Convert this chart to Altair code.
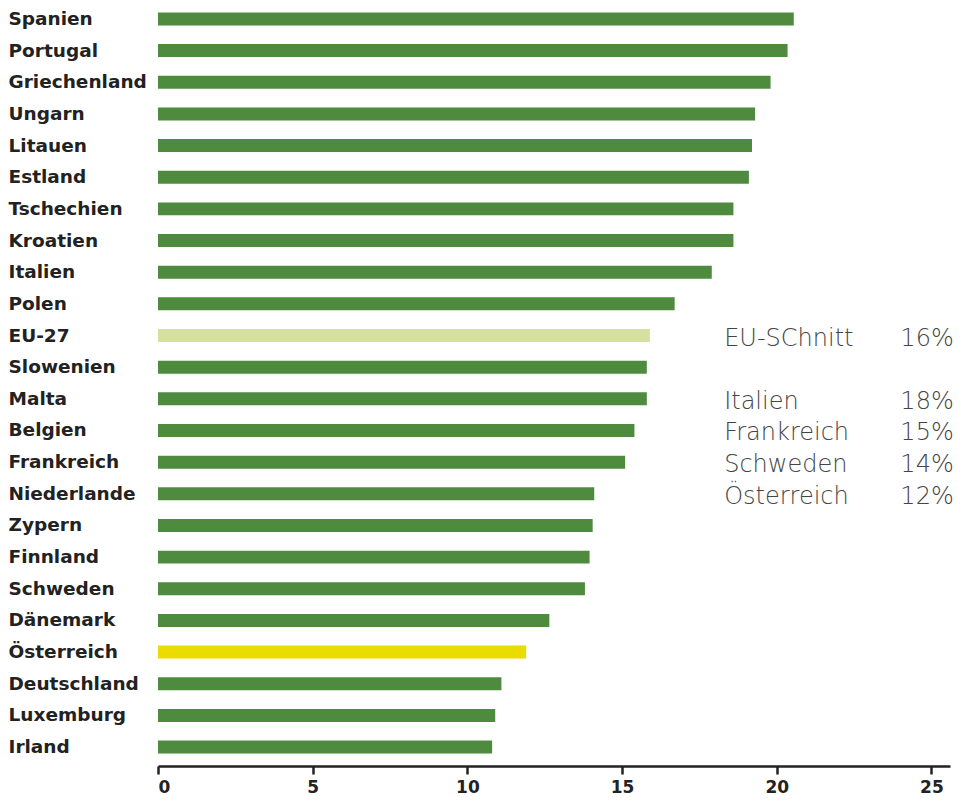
import altair as alt
import pandas as pd

countries = ["Spanien", "Portugal", "Griechenland", "Ungarn", "Litauen", "Estland",
             "Tschechien", "Kroatien", "Italien", "Polen", "EU-27", "Slowenien",
             "Malta", "Belgien", "Frankreich", "Niederlande", "Zypern", "Finnland",
             "Schweden", "Dänemark", "Österreich", "Deutschland", "Luxemburg", "Irland"]
values = [20.55, 20.35, 19.8, 19.3, 19.2, 19.1, 18.6, 18.6, 17.9, 16.7, 15.9, 15.8,
          15.8, 15.4, 15.1, 14.1, 14.05, 13.95, 13.8, 12.65, 11.9, 11.1, 10.9, 10.8]
groups = ["Land"] * 10 + ["EU"] + ["Land"] * 9 + ["AT"] + ["Land"] * 3

ann_labels = ["EU-SChnitt", "Italien", "Frankreich", "Schweden", "Österreich"]
ann_values = ["16%", "18%", "15%", "14%", "12%"]
ann_rows = ["EU-27", "Malta", "Belgien", "Frankreich", "Niederlande"]

df = pd.DataFrame({"land": countries, "wert": values, "gruppe": groups})
ann = pd.DataFrame({"label": ann_labels, "pct": ann_values, "row": ann_rows,
                    "xl": [18.3] * 5, "xr": [25.72] * 5})

FONT = "DejaVu Sans"
yscale = alt.Scale(domain=countries, paddingInner=0.59, paddingOuter=0.14)
xscale = alt.Scale(domain=[0, 25.6], nice=False)

bars = alt.Chart(df).mark_bar().encode(
    y=alt.Y("land:N", sort=countries, scale=yscale, title=None,
            axis=alt.Axis(labelAlign="left", labelPadding=150, ticks=False, domain=False,
                          labelFont=FONT, labelFontSize=18.5, labelFontWeight="bold",
                          labelColor="#222222", grid=False)),
    x=alt.X("wert:Q", scale=xscale, title=None,
            axis=alt.Axis(values=[0, 5, 10, 15, 20, 25], format="d", offset=8,
                          domainColor="#222222", domainWidth=2.5, tickColor="#222222",
                          tickWidth=2.5, tickSize=8, labelPadding=5,
                          labelFont=FONT, labelFontSize=17, labelFontWeight="bold",
                          labelColor="#222222", grid=False)),
    color=alt.Color("gruppe:N", legend=None,
                    scale=alt.Scale(domain=["Land", "EU", "AT"],
                                    range=["#4E8B3F", "#D5E0A1", "#EBDC00"])),
)

txt_l = alt.Chart(ann).mark_text(align="left", baseline="middle", font=FONT, dy=3,
                                 fontSize=24, fontWeight=200, color="#444444").encode(
    x=alt.X("xl:Q", scale=xscale), y=alt.Y("row:N", sort=countries, scale=yscale),
    text="label:N")
txt_r = alt.Chart(ann).mark_text(align="right", baseline="middle", font=FONT, dy=3,
                                 fontSize=24, fontWeight=200, color="#444444").encode(
    x=alt.X("xr:Q", scale=xscale), y=alt.Y("row:N", sort=countries, scale=yscale),
    text="pct:N")

chart = alt.layer(bars, txt_l, txt_r).properties(
    width=792, height=750, padding=0
).configure_view(stroke=None)

chart.save("out.html", embed_options={"renderer": "svg", "actions": False})
